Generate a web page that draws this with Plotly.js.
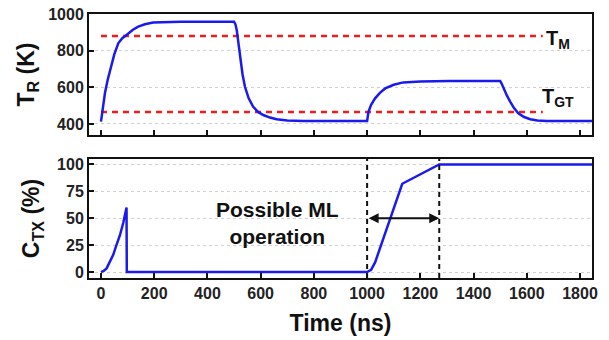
<!DOCTYPE html>
<html>
<head>
<meta charset="utf-8">
<script src="https://cdn.plot.ly/plotly-3.0.1.min.js"></script>
<style>html,body{margin:0;padding:0;background:#fff;}#chart{width:609px;height:340px;}</style>
</head>
<body>
<div id="chart"></div>
<script>
// ---- data ----
const tTime = [0, 8, 15, 25, 34, 50, 65, 80, 96, 120, 140, 165, 196, 250, 300, 500,
  505, 510, 516, 523, 532, 541, 555, 572, 590, 610, 635, 660, 700, 760, 1000,
  1005, 1015, 1030, 1048, 1068, 1100, 1136, 1200, 1312, 1500,
  1505, 1512, 1525, 1538, 1552, 1568, 1590, 1613, 1640, 1676, 1850];
const tTemp = [413, 510, 569, 640, 695, 780, 840, 868, 886, 914, 931, 944, 953, 957, 958, 958,
  945, 913, 840, 750, 670, 603, 540, 494, 466, 449, 435, 426, 419, 416, 416,
  467, 505, 540, 570, 594, 614, 627, 632, 634, 634,
  622, 596, 556, 521, 487, 458, 438, 426, 419, 416, 416];

const cTime = [0, 10, 21, 33, 46, 58, 71, 84, 96, 97, 1000, 1015, 1030, 1132, 1271, 1850];
const cVal  = [0, 1, 3.4, 9, 16, 25, 34, 46, 60, 0, 0, 2, 9, 82, 100, 100];

const thresholdNames  = ['T<sub>M</sub>', 'T<sub>GT</sub>'];
const thresholdValues = [880, 465];
const thresholdSpan   = [0, 1660];

const mlWindow = [1000, 1271];
const mlArrowLevel = 50;
const mlLabel = 'Possible ML<br>operation';
const mlLabelPos = [662, 46];

const xTicks = [0, 200, 400, 600, 800, 1000, 1200, 1400, 1600, 1800];
const tTicks = [400, 600, 800, 1000];
const cTicks = [0, 25, 50, 75, 100];

// ---- traces ----
const blue = '#1a1aee';
const red = '#ee1c1c';
const traces = [];
thresholdValues.forEach(v => {
  traces.push({x: thresholdSpan, y: [v, v], xaxis: 'x', yaxis: 'y', mode: 'lines',
    line: {color: red, width: 2.5, dash: '6px,5px'}, hoverinfo: 'skip'});
});
traces.push({x: tTime, y: tTemp, xaxis: 'x', yaxis: 'y', mode: 'lines',
  line: {color: blue, width: 2.5}});
traces.push({x: cTime, y: cVal, xaxis: 'x2', yaxis: 'y2', mode: 'lines',
  line: {color: blue, width: 2.5}});

const fam = 'Liberation Sans, Arial, sans-serif';
const tickFont = {family: fam, size: 16, color: '#222', weight: 'bold'};
const titleFont = {family: fam, size: 23, color: '#111', weight: 'bold'};

const axCommon = {
  showline: true, linecolor: '#111', linewidth: 2, mirror: true,
  ticks: 'inside', ticklen: 5, tickwidth: 2, tickcolor: '#111',
  tickfont: tickFont, zeroline: false, fixedrange: true
};

const layout = {
  width: 609, height: 340,
  margin: {l: 89, r: 17, t: 14, b: 62},
  paper_bgcolor: '#fff', plot_bgcolor: '#fff',
  showlegend: false,
  font: {family: fam, weight: 'bold'},
  xaxis: Object.assign({}, axCommon, {domain: [0, 1], anchor: 'y', range: [-45, 1845],
    tickvals: xTicks, showticklabels: false, showgrid: false}),
  yaxis: Object.assign({}, axCommon, {domain: [0.5417, 1], anchor: 'x', range: [340, 1000],
    tickvals: tTicks, showgrid: true, gridcolor: '#d0d0d0', griddash: 'dot', gridwidth: 1,
    title: {text: 'T<sub>R</sub> (K)', font: titleFont, standoff: 7}}),
  xaxis2: Object.assign({}, axCommon, {domain: [0, 1], anchor: 'y2', range: [-45, 1845],
    tickvals: xTicks, showgrid: false,
    title: {text: 'Time (ns)', font: titleFont, standoff: 14}}),
  yaxis2: Object.assign({}, axCommon, {domain: [0, 0.4508], anchor: 'x2', range: [-5.5, 105],
    tickvals: cTicks, showgrid: true, gridcolor: '#d0d0d0', griddash: 'dot', gridwidth: 1,
    title: {text: 'C<sub>TX</sub> (%)', font: titleFont, standoff: 11}}),
  shapes: mlWindow.map(v => ({type: 'line', xref: 'x2', yref: 'y2 domain', x0: v, x1: v, y0: 0, y1: 1,
    line: {color: '#111', width: 2, dash: '5px,4px'}})),
  annotations: [
    {xref: 'x', yref: 'y', x: thresholdSpan[1] + 4, y: thresholdValues[0], text: thresholdNames[0],
      showarrow: false, xanchor: 'left', yanchor: 'middle', yshift: -3,
      font: {family: fam, size: 20, color: '#111', weight: 'bold'}},
    {xref: 'x', yref: 'y', x: thresholdSpan[1] - 12, y: 560, text: thresholdNames[1],
      showarrow: false, xanchor: 'left', yanchor: 'middle', yshift: -3,
      font: {family: fam, size: 20, color: '#111', weight: 'bold'}},
    {xref: 'x2', yref: 'y2', x: mlLabelPos[0], y: mlLabelPos[1], text: mlLabel, showarrow: false,
      xanchor: 'center', yanchor: 'middle',
      font: {family: fam, size: 21, color: '#111', weight: 'bold'}},
    {xref: 'x2', yref: 'y2', axref: 'x2', ayref: 'y2', x: mlWindow[1], y: mlArrowLevel,
      ax: mlWindow[0], ay: mlArrowLevel, text: '', showarrow: true, arrowhead: 2, arrowside: 'end+start',
      arrowsize: 1, arrowwidth: 2, arrowcolor: '#111', standoff: 0, startstandoff: 0}
  ]
};

Plotly.newPlot('chart', traces, layout, {staticPlot: true, displayModeBar: false});
</script>
</body>
</html>
